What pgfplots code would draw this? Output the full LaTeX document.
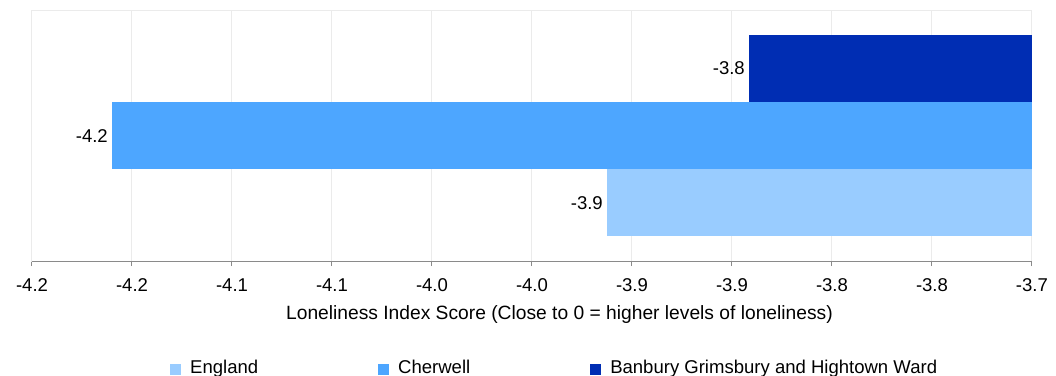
\documentclass[border=0pt]{standalone}
\usepackage{pgfplots}
\pgfplotsset{compat=1.18}
\usepackage{fontspec}
\setmainfont{Liberation Sans}
\definecolor{cEng}{HTML}{99CCFF}
\definecolor{cChe}{HTML}{4DA6FF}
\definecolor{cBan}{HTML}{002DB3}
\definecolor{gridc}{HTML}{EBEBEB}
\definecolor{axisc}{HTML}{8A8A8A}
\begin{document}
\fontsize{18.6}{22}\selectfont
\begin{tikzpicture}
\path[use as bounding box] (0,0) rectangle (1056bp,376bp);
\begin{axis}[
  at={(32bp,115bp)}, anchor=south west,
  scale only axis, width=1000bp, height=250bp,
  xmin=-4.2, xmax=-3.7, ymin=-0.866, ymax=2.858,
  xbar, bar width=1,
  /pgf/number format/assume math mode=true,
  xtick={-4.2,-4.15,-4.1,-4.05,-4.0,-3.95,-3.9,-3.85,-3.8,-3.75,-3.7},
  xticklabels={-4.2,-4.2,-4.1,-4.1,-4.0,-4.0,-3.9,-3.9,-3.8,-3.8,-3.7},
  ytick=\empty,
  xmajorgrids, grid style={gridc, line width=1bp},
  axis line style={gridc, line width=1bp},
  xtick style={axisc, line width=1bp},
  tick align=outside, major tick length=5bp, xtick pos=bottom,
  xticklabel style={anchor=base, inner sep=0pt, yshift=-25bp, text=black},
  xlabel={\fontsize{19.3}{22}\selectfont Loneliness Index Score (Close to 0 = higher levels of loneliness)},
  x label style={at={(axis description cs:0.5275,-0.232)}, anchor=base, inner sep=0pt},
  point meta=x,
  nodes near coords={\pgfmathprintnumber[fixed,precision=1,fixed zerofill]{\pgfplotspointmeta}},
  nodes near coords style={anchor=east, inner sep=0pt, xshift=-4bp, text=black},
  legend columns=3,
  legend style={at={(axis description cs:0.135,-0.429)}, anchor=west, draw=none, fill=none,
    nodes={inner sep=0pt}, cells={anchor=west},
    /tikz/every odd column/.append style={column sep=9bp},
    /tikz/every even column/.append style={column sep=120bp}},
  legend image code/.code={\fill[#1] (0bp,-6.5bp) rectangle (11bp,4.5bp);},
  after end axis/.code={\draw[axisc, line width=1bp] (rel axis cs:0,0) -- (rel axis cs:1,0);},
]
\addplot[fill=cEng, draw=none, bar shift=0pt] coordinates {(-3.9125,0)};
\addlegendentry{England}
\addplot[fill=cChe, draw=none, bar shift=0pt] coordinates {(-4.16,1)};
\addlegendentry{Cherwell}
\addplot[fill=cBan, draw=none, bar shift=0pt] coordinates {(-3.8415,2)};
\addlegendentry{Banbury Grimsbury and Hightown Ward}
\end{axis}
\end{tikzpicture}
\end{document}
